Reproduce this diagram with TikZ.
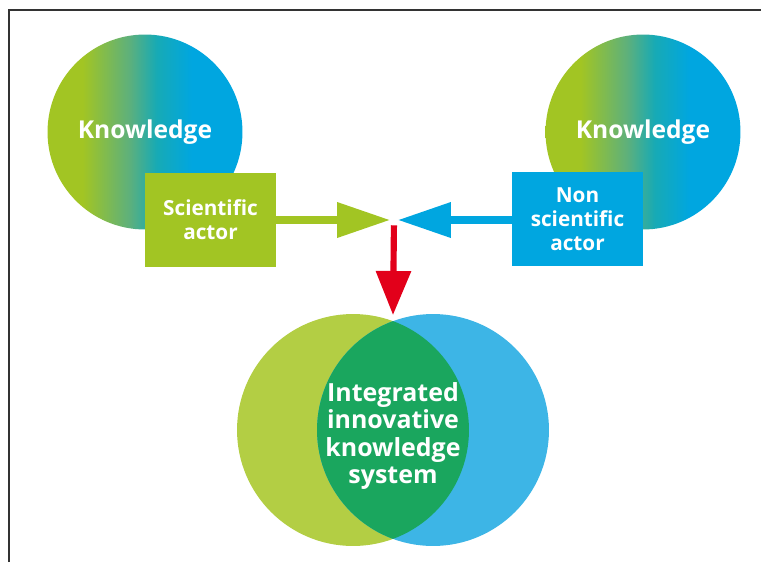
\documentclass[tikz,border=0pt]{standalone}
\usepackage{fontspec}
\setsansfont{Open Sans}
\usepackage{tikz}
\usetikzlibrary{arrows.meta,positioning}
\definecolor{kgreen}{HTML}{A2C523}
\definecolor{kmid}{HTML}{5DB07C}
\definecolor{kteal}{HTML}{17AAB5}
\definecolor{kblue}{HTML}{00A6E0}
\definecolor{vgreen}{HTML}{B3CE44}
\definecolor{vblue}{HTML}{3DB5E6}
\definecolor{vlens}{HTML}{1AA65E}
\definecolor{kred}{HTML}{E2001A}
\pgfdeclarehorizontalshading{knowshade}{100bp}{color(0bp)=(kgreen); color(34bp)=(kgreen); color(46bp)=(kmid); color(53bp)=(kteal); color(62bp)=(kblue); color(100bp)=(kblue)}

\begin{document}
\begin{tikzpicture}[x=0.02cm,y=-0.02cm,
  know/.style={circle,inner sep=0pt,minimum size=3.9cm,shading=knowshade,text=white,
    font=\sffamily\bfseries\fontsize{14}{16}\selectfont},
  actor/.style={inner sep=0pt,minimum width=2.62cm,minimum height=1.88cm,text=white,
    align=center,font=\sffamily\bfseries\fontsize{11.8}{13.6}\selectfont},
  flow/.style={line width=4pt,-{Triangle[length=1.06cm,width=0.68cm]}}]
\useasboundingbox (0,0) rectangle (761,562);
%%Frame
\draw[line width=1.6pt,black!80] (9,562) -- (9,10) -- (761,10);
%%Knowledge
\node[know] (kl) at (145,132) {Knowledge};
\node[know] (kr) at (643,132) {Knowledge};
\node[actor,fill=kgreen] (sci) at (210.5,220) {Scientific\\actor};
\node[actor,fill=kblue] (nonsci) at (577.5,219) {Non\\scientific\\actor};
%%Arrows
\coordinate (meet) at (394,220);
\coordinate (lenstop) at (393,315);
\draw[flow,kgreen] (sci.east) -- (meet) [shorten >=4*0.567pt];
\draw[flow,kblue] (nonsci.west |- meet) -- (meet) [shorten >=4*0.567pt];
\draw[kred,line width=3.5pt,-{Triangle[length=0.88cm,width=0.68cm]},shorten <=3pt] (meet) -- (lenstop);
%%Venn
\node[circle,minimum size=4.64cm,fill=vgreen] (vl) at (353,430) {};
\node[circle,minimum size=4.64cm,fill=vblue] (vr) at (433,430) {};
\begin{scope}
\clip (vl.center) circle (2.32cm);
\fill[vlens] (vr.center) circle (2.32cm);
\end{scope}
\node[text=white,align=center,font=\sffamily\bfseries\fontsize{14.2}{15.7}\selectfont] (sys) at (393,436) {Integrated\\innovative\\knowledge\\system};
\end{tikzpicture}
\end{document}
